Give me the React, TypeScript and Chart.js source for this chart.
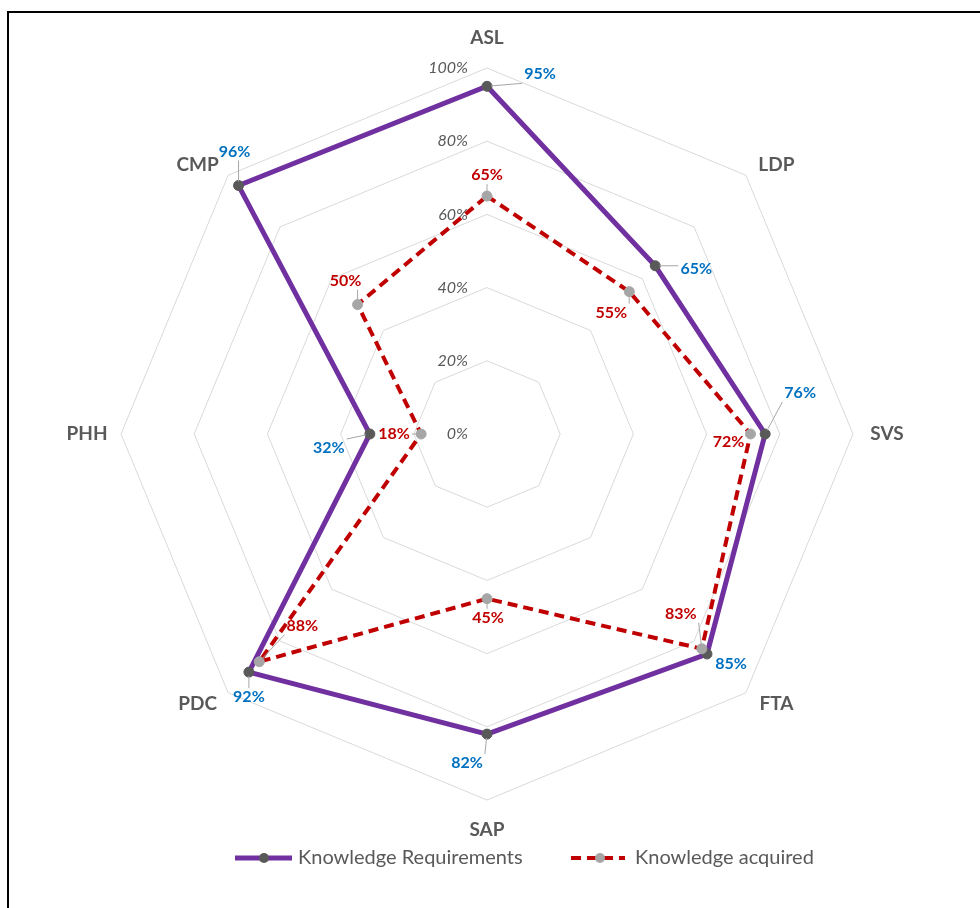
import React, { useEffect, useRef } from 'react';
import { Chart, registerables } from 'chart.js';

Chart.register(...registerables);

const categories = ['ASL', 'LDP', 'SVS', 'FTA', 'SAP', 'PDC', 'PHH', 'CMP'];
const requirements = [95, 65, 76, 85, 82, 92, 32, 96];
const acquired = [65, 55, 72, 83, 45, 88, 18, 50];
const tickValues = [0, 20, 40, 60, 80, 100];
const seriesNames = ['Knowledge Requirements', 'Knowledge acquired'];

// label placement offsets (px) relative to each point
const reqLabelOffsets = [[53, -12], [41, 3], [35, -41], [24, 10], [-20, 29], [0, 25], [-41, 14], [-4, -34]];
const acqLabelOffsets = [[0, -21], [-18, 21], [-22, 8], [-21, -35], [1, 19], [43, -36], [-27, 0], [-12, -24]];

const FONT = "Lato, 'Open Sans', sans-serif";
const PURPLE = '#7030A0';
const RED = '#C00000';
const BLUE = '#0070C0';
const GRAY_TEXT = '#595959';
const DARK_MARK = '#595959';
const LIGHT_MARK = '#A6A6A6';

const overlayPlugin = {
  id: 'overlay',
  beforeDatasetsDraw(chart: any) {
    const ctx = chart.ctx;
    const r = chart.scales.r;
    ctx.save();
    ctx.font = `italic 16px ${FONT}`;
    ctx.fillStyle = GRAY_TEXT;
    ctx.textAlign = 'right';
    ctx.textBaseline = 'middle';
    tickValues.forEach((v) => {
      const d = r.getDistanceFromCenterForValue(v);
      ctx.fillText(`${v}%`, r.xCenter - 19, r.yCenter - d);
    });
    // category labels
    ctx.font = `bold 19px ${FONT}`;
    ctx.textAlign = 'center';
    categories.forEach((c, i) => {
      const axis = r.getPointPosition(i, r.drawingArea);
      const dx = axis.x - r.xCenter;
      const dy = axis.y - r.yCenter;
      const isVert = Math.abs(dx) < 1;
      const isHorz = Math.abs(dy) < 1;
      let p;
      if (isVert) p = r.getPointPosition(i, r.drawingArea + 30);
      else if (isHorz) p = r.getPointPosition(i, r.drawingArea + 34);
      else {
        p = r.getPointPosition(i, r.drawingArea + 15);
        p = { x: p.x + Math.sign(dx) * 20, y: p.y };
      }
      ctx.fillText(c, p.x, p.y);
    });
    ctx.restore();
  },
  afterDatasetsDraw(chart: any) {
    const ctx = chart.ctx;
    ctx.save();
    ctx.font = `bold 16px ${FONT}`;
    ctx.textAlign = 'center';
    ctx.textBaseline = 'middle';
    const drawSet = (dsIndex: number, values: number[], offs: number[][], color: string) => {
      const meta = chart.getDatasetMeta(dsIndex);
      values.forEach((v, i) => {
        const pt = meta.data[i];
        const text = `${v}%`;
        const lx = pt.x + offs[i][0];
        const ly = pt.y + offs[i][1];
        const w = ctx.measureText(text).width;
        const hw = w / 2 + 2;
        const hh = 9;
        const nx = Math.max(lx - hw, Math.min(pt.x, lx + hw));
        const ny = Math.max(ly - hh, Math.min(pt.y, ly + hh));
        const dist = Math.hypot(nx - pt.x, ny - pt.y);
        if (dist > 9) {
          ctx.strokeStyle = '#A6A6A6';
          ctx.lineWidth = 1;
          ctx.beginPath();
          const ux = (nx - pt.x) / dist;
          const uy = (ny - pt.y) / dist;
          ctx.moveTo(pt.x + ux * 4, pt.y + uy * 4);
          ctx.lineTo(nx, ny);
          ctx.stroke();
        }
        ctx.fillStyle = color;
        ctx.fillText(text, lx, ly);
      });
    };
    drawSet(0, requirements, reqLabelOffsets, BLUE);
    drawSet(1, acquired, acqLabelOffsets, RED);

    // legend
    const ly = 858;
    ctx.lineCap = 'butt';
    ctx.strokeStyle = PURPLE;
    ctx.lineWidth = 5;
    ctx.beginPath();
    ctx.moveTo(235, ly);
    ctx.lineTo(292, ly);
    ctx.stroke();
    ctx.fillStyle = DARK_MARK;
    ctx.beginPath();
    ctx.arc(264, ly, 5, 0, Math.PI * 2);
    ctx.fill();
    ctx.strokeStyle = RED;
    ctx.lineWidth = 4;
    ctx.setLineDash([10, 6]);
    ctx.beginPath();
    ctx.moveTo(571, ly);
    ctx.lineTo(625, ly);
    ctx.stroke();
    ctx.setLineDash([]);
    ctx.fillStyle = LIGHT_MARK;
    ctx.beginPath();
    ctx.arc(600, ly, 5, 0, Math.PI * 2);
    ctx.fill();
    ctx.font = `20px ${FONT}`;
    ctx.fillStyle = GRAY_TEXT;
    ctx.textAlign = 'left';
    ctx.fillText(seriesNames[0], 298, ly);
    ctx.fillText(seriesNames[1], 635, ly);
    ctx.restore();
  },
};

export default function App() {
  const ref = useRef<HTMLCanvasElement | null>(null);
  useEffect(() => {
    if (!ref.current) return;
    const chart = new Chart(ref.current, {
      type: 'radar',
      data: {
        labels: categories,
        datasets: [
          {
            label: seriesNames[0],
            data: requirements,
            borderColor: PURPLE,
            borderWidth: 5,
            backgroundColor: 'transparent',
            fill: false,
            pointRadius: 5,
            pointBorderWidth: 1,
            pointBackgroundColor: DARK_MARK,
            pointBorderColor: DARK_MARK,
            tension: 0,
            order: 1,
          },
          {
            label: seriesNames[1],
            data: acquired,
            borderColor: RED,
            borderWidth: 4,
            borderDash: [10, 6],
            backgroundColor: 'transparent',
            fill: false,
            pointRadius: 5,
            pointBorderWidth: 1,
            pointBackgroundColor: LIGHT_MARK,
            pointBorderColor: LIGHT_MARK,
            tension: 0,
            order: 0,
          },
        ],
      },
      options: {
        animation: false,
        responsive: false,
        layout: { padding: { left: 121, top: 68, right: 127, bottom: 108 } },
        plugins: { legend: { display: false }, tooltip: { enabled: false } },
        scales: {
          r: {
            min: 0,
            max: 100,
            ticks: { display: false, stepSize: 20 },
            pointLabels: { display: false },
            angleLines: { display: false },
            grid: { color: '#D9D9D9', lineWidth: 1 },
          },
        },
      },
      plugins: [overlayPlugin],
    });
    return () => chart.destroy();
  }, []);
  return (
    <div style={{ position: 'absolute', left: 0, top: 0, width: 980, height: 908, background: '#fff' }}>
      <canvas ref={ref} width={980} height={908} style={{ position: 'absolute', left: 0, top: 0 }} />
      <div
        style={{
          position: 'absolute',
          left: 7,
          top: 11,
          width: 973,
          height: 897,
          borderTop: '2px solid #000',
          borderLeft: '2px solid #000',
          boxSizing: 'border-box',
          pointerEvents: 'none',
        }}
      />
    </div>
  );
}
